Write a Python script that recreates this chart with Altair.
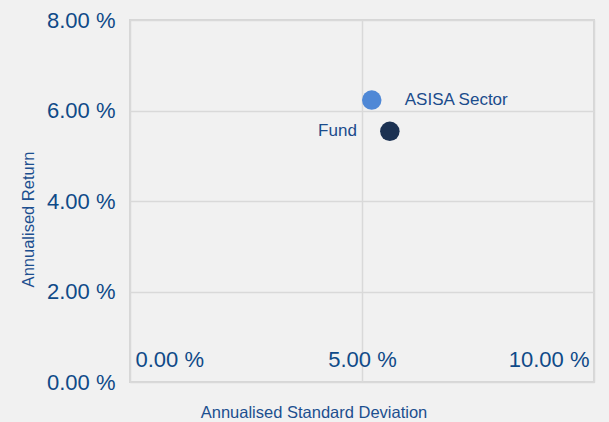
import altair as alt
import pandas as pd

names = ["ASISA Sector", "Fund"]
std_dev = [5.21, 5.60]
returns = [6.23, 5.54]
colors = ["#4f88d6", "#1b3152"]

x_ticks = [0, 5, 10]
y_ticks = [0, 2, 4, 6, 8]

df = pd.DataFrame({"name": names, "sd": std_dev, "ret": returns})

LABEL_COLOR = "#0f4a88"
TITLE_COLOR = "#1c4f8f"
FONT = "Liberation Sans"

x_enc = alt.X(
    "sd:Q",
    scale=alt.Scale(domain=[0, 10], nice=False, zero=True),
    axis=alt.Axis(
        title="Annualised Standard Deviation",
        values=x_ticks,
        labelExpr="format(datum.value, '.2f') + ' %'",
        labelFont=FONT,
        labelFontSize=22,
        labelColor=LABEL_COLOR,
        labelFlush=True,
        labelFlushOffset=-5,
        labelPadding=-33,
        ticks=False,
        tickSize=0,
        domain=False,
        grid=True,
        gridColor="#d9d9d9",
        gridWidth=1.5,
        titleFont=FONT,
        titleFontSize=16.5,
        titleFontWeight="normal",
        titleColor=TITLE_COLOR,
        titleX=183.5,
        titleY=35,
        titleBaseline="alphabetic",
        titleAlign="center",
    ),
)
y_enc = alt.Y(
    "ret:Q",
    scale=alt.Scale(domain=[0, 8], nice=False),
    axis=alt.Axis(
        title="Annualised Return",
        values=y_ticks,
        labelExpr="format(datum.value, '.2f') + ' %'",
        labelFont=FONT,
        labelFontSize=22,
        labelColor=LABEL_COLOR,
        labelFlush=False,
        labelPadding=15,
        ticks=False,
        tickSize=0,
        domain=False,
        grid=True,
        gridColor="#d9d9d9",
        gridWidth=1.5,
        titleFont=FONT,
        titleFontSize=16.5,
        titleFontWeight="normal",
        titleColor=TITLE_COLOR,
        titleX=-97,
        titleY=199,
        titleAngle=270,
        titleBaseline="alphabetic",
        titleAlign="center",
    ),
)

base = alt.Chart(df)

points = base.mark_circle(size=380, opacity=1).encode(
    x=x_enc,
    y=y_enc,
    color=alt.Color("name:N", scale=alt.Scale(domain=names, range=colors), legend=None),
)

label_asisa = base.transform_filter(alt.datum.name == "ASISA Sector").mark_text(
    align="left", baseline="middle", dx=33, font=FONT, fontSize=17, color="#1b4c8c"
).encode(x="sd:Q", y="ret:Q", text="name:N")

label_fund = base.transform_filter(alt.datum.name == "Fund").mark_text(
    align="right", baseline="middle", dx=-33, font=FONT, fontSize=17, color="#1b4c8c"
).encode(x="sd:Q", y="ret:Q", text="name:N")

chart = (
    alt.layer(points, label_asisa, label_fund)
    .properties(
        width=464,
        height=362,
        background="#f1f1f1",
        padding={"left": 130, "top": 20, "right": 15, "bottom": 40},
        autosize=alt.AutoSizeParams(type="none"),
    )
    .configure_view(stroke="#d6d6d6", strokeWidth=2, fill="#f1f1f1")
)

chart.save("out.html", embed_options={"renderer": "svg", "actions": False})
